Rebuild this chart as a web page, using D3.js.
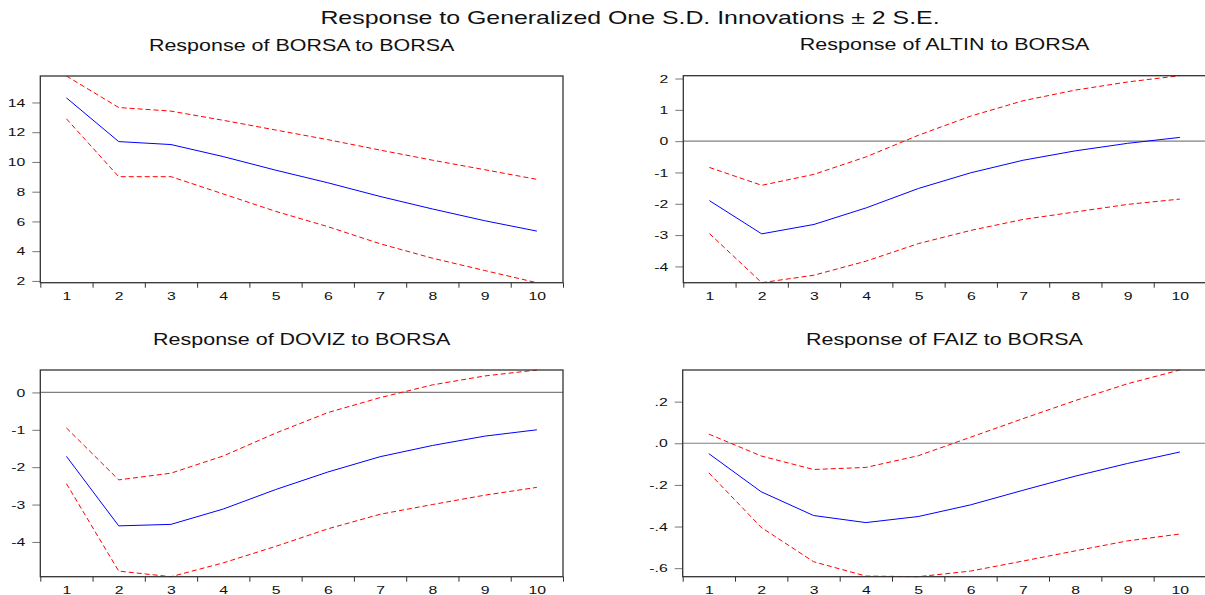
<!DOCTYPE html>
<html>
<head>
<meta charset="utf-8">
<script src="https://cdn.jsdelivr.net/npm/d3@7"></script>
<style>
  html, body { margin: 0; padding: 0; background: #fff; }
  svg { display: block; }
  text { font-family: "Liberation Sans", Arial, sans-serif; fill: #111; }
</style>
</head>
<body>
<svg id="chart" width="1205" height="595"></svg>
<script>
// ---------- data ----------
const periods = [1, 2, 3, 4, 5, 6, 7, 8, 9, 10];

const borsaResp  = [14.31, 11.37, 11.17, 10.36, 9.45, 8.60, 7.68, 6.84, 6.05, 5.35];
const borsaUpper = [15.78, 13.66, 13.42, 12.80, 12.15, 11.50, 10.80, 10.12, 9.48, 8.83];
const borsaLower = [12.90, 9.01, 9.01, 7.85, 6.68, 5.65, 4.50, 3.53, 2.70, 1.88];

const altinResp  = [-1.90, -2.96, -2.66, -2.13, -1.51, -1.01, -0.61, -0.31, -0.07, 0.12];
const altinUpper = [-0.84, -1.41, -1.06, -0.50, 0.19, 0.80, 1.29, 1.63, 1.89, 2.09];
const altinLower = [-2.95, -4.52, -4.28, -3.83, -3.27, -2.85, -2.50, -2.26, -2.02, -1.85];

const dovizResp  = [-1.71, -3.57, -3.53, -3.12, -2.60, -2.13, -1.72, -1.42, -1.17, -1.00];
const dovizUpper = [-0.95, -2.34, -2.16, -1.70, -1.09, -0.54, -0.14, 0.20, 0.44, 0.60];
const dovizLower = [-2.44, -4.78, -4.93, -4.56, -4.12, -3.65, -3.26, -3.00, -2.75, -2.54];

const faizResp  = [-0.050, -0.233, -0.347, -0.381, -0.352, -0.296, -0.226, -0.158, -0.097, -0.042];
const faizUpper = [0.044, -0.061, -0.126, -0.116, -0.060, 0.029, 0.118, 0.205, 0.286, 0.352];
const faizLower = [-0.142, -0.404, -0.569, -0.638, -0.641, -0.614, -0.566, -0.517, -0.469, -0.436];

const borsaTicks = [2, 4, 6, 8, 10, 12, 14];
const borsaTickLabels = ["2", "4", "6", "8", "10", "12", "14"];
const altinTicks = [-4, -3, -2, -1, 0, 1, 2];
const altinTickLabels = ["-4", "-3", "-2", "-1", "0", "1", "2"];
const dovizTicks = [-4, -3, -2, -1, 0];
const dovizTickLabels = ["-4", "-3", "-2", "-1", "0"];
const faizTicks = [-0.6, -0.4, -0.2, 0.0, 0.2];
const faizTickLabels = ["-.6", "-.4", "-.2", ".0", ".2"];

const mainTitle = "Response to Generalized One S.D. Innovations \u00b1 2 S.E.";
const panelTitles = ["Response of BORSA to BORSA", "Response of ALTIN to BORSA",
                     "Response of DOVIZ to BORSA", "Response of FAIZ to BORSA"];

// ---------- layout ----------
const SX = 1.36; // horizontal text stretch seen in the reference
const svg = d3.select("#chart");

const boxes = [
  {left: 40.3, right: 563, top: 76, bottom: 282.7},
  {left: 683.3, right: 1206, top: 75.7, bottom: 282.7},
  {left: 40.3, right: 563, top: 370, bottom: 576.7},
  {left: 682.7, right: 1206, top: 370, bottom: 576.7}
];

const panels = [
  {resp: borsaResp, up: borsaUpper, lo: borsaLower, ticks: borsaTicks, labels: borsaTickLabels},
  {resp: altinResp, up: altinUpper, lo: altinLower, ticks: altinTicks, labels: altinTickLabels},
  {resp: dovizResp, up: dovizUpper, lo: dovizLower, ticks: dovizTicks, labels: dovizTickLabels},
  {resp: faizResp, up: faizUpper, lo: faizLower, ticks: faizTicks, labels: faizTickLabels}
];

function stretchText(sel) {
  sel.each(function () {
    const t = d3.select(this);
    const x = +t.attr("x") || 0;
    const y = +t.attr("y") || 0;
    t.attr("x", 0).attr("y", 0)
     .attr("transform", `translate(${x},${y}) scale(${SX},1)`);
  });
}

// main title
svg.append("text")
  .attr("x", 630).attr("y", 23.5)
  .attr("text-anchor", "middle")
  .style("font-size", "18.3px")
  .text(mainTitle)
  .call(stretchText);

panels.forEach((p, i) => {
  const b = boxes[i];
  const g = svg.append("g");

  const all = p.resp.concat(p.up, p.lo);
  const y = d3.scaleLinear().domain(d3.extent(all)).range([b.bottom, b.top]);
  const x = d3.scaleLinear().domain([0.5, 10.5]).range([b.left, b.right]);

  // panel title
  g.append("text")
    .attr("x", (b.left + b.right) / 2).attr("y", b.top - 25.5)
    .attr("text-anchor", "middle")
    .style("font-size", "15.8px")
    .text(panelTitles[i])
    .call(stretchText);

  // zero line
  if (y.domain()[0] < 0 && y.domain()[1] > 0) {
    g.append("line")
      .attr("x1", b.left).attr("x2", b.right)
      .attr("y1", y(0)).attr("y2", y(0))
      .attr("stroke", "#808080").attr("stroke-width", 1.2);
  }

  // y axis
  const yAxis = g.append("g")
    .attr("transform", `translate(${b.left},0)`)
    .call(d3.axisLeft(y).tickValues(p.ticks).tickSize(8).tickPadding(7)
      .tickFormat((d, k) => p.labels[k]));
  yAxis.select(".domain").remove();
  yAxis.selectAll(".tick line").attr("stroke", "#777");
  yAxis.selectAll("text").style("font-size", "11.6px").attr("fill", "#111").call(stretchText);

  // x axis tick marks at period boundaries
  const edges = d3.range(0.5, 11, 1);
  const xTicks = g.append("g")
    .attr("transform", `translate(0,${b.bottom})`)
    .call(d3.axisBottom(x).tickValues(edges).tickSize(5).tickFormat(""));
  xTicks.select(".domain").remove();
  xTicks.selectAll(".tick line").attr("stroke", "#333");

  // x labels at period centres
  const xLab = g.append("g")
    .attr("transform", `translate(0,${b.bottom})`)
    .call(d3.axisBottom(x).tickValues(periods).tickSize(0).tickPadding(8.8)
      .tickFormat(d3.format("d")));
  xLab.select(".domain").remove();
  xLab.selectAll("text").style("font-size", "11.6px").attr("fill", "#111").call(stretchText);

  // lines
  const line = d3.line().x((d, k) => x(periods[k])).y(d => y(d));
  g.append("path").datum(p.up).attr("d", line)
    .attr("fill", "none").attr("stroke", "#ff0000").attr("stroke-width", 1)
    .attr("stroke-dasharray", "5,3");
  g.append("path").datum(p.lo).attr("d", line)
    .attr("fill", "none").attr("stroke", "#ff0000").attr("stroke-width", 1)
    .attr("stroke-dasharray", "5,3");
  g.append("path").datum(p.resp).attr("d", line)
    .attr("fill", "none").attr("stroke", "#0000ff").attr("stroke-width", 1);

  // box
  g.append("rect")
    .attr("x", b.left).attr("y", b.top)
    .attr("width", b.right - b.left).attr("height", b.bottom - b.top)
    .attr("fill", "none").attr("stroke", "#333").attr("stroke-width", 1.3);
});
</script>
</body>
</html>
